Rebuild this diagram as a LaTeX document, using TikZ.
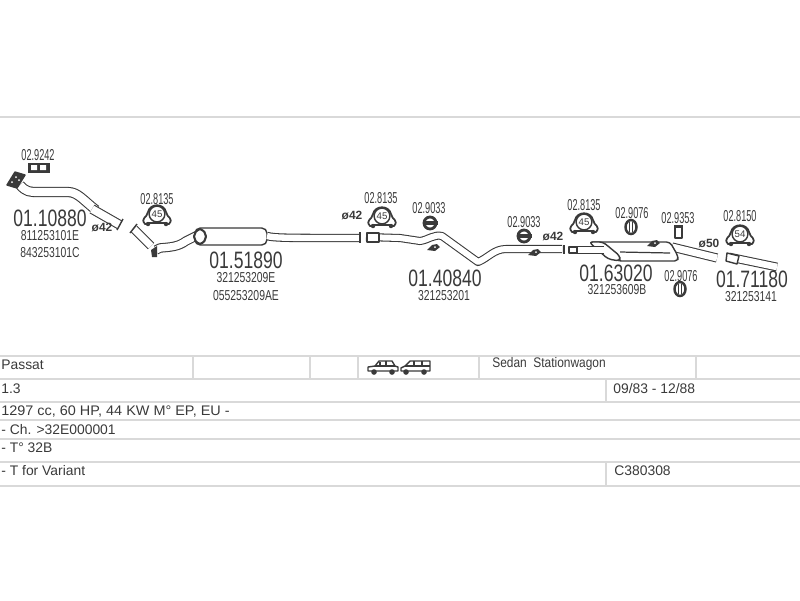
\documentclass[tikz,border=0pt]{standalone}
\usepackage{fontspec}
\setmainfont{Liberation Sans}
\definecolor{ink}{HTML}{3A3A3A}
\definecolor{rule}{HTML}{D9D9D9}
\tikzset{
  partnum/.style={text=ink,inner sep=0pt,font=\fontsize{13.5}{14}\selectfont,transform shape,xscale=.74},
  oemnum/.style={text=ink,inner sep=0pt,font=\fontsize{8.2}{9}\selectfont,transform shape,xscale=.72},
  fitnum/.style={text=ink,inner sep=0pt,font=\fontsize{9}{10}\selectfont,transform shape,xscale=.58},
  dia/.style={text=ink,inner sep=0pt,font=\fontsize{6.8}{8}\selectfont\bfseries},
  cell/.style={text=ink,inner sep=0pt,anchor=west,font=\fontsize{7.9}{9}\selectfont},
  rowline/.style={draw=rule,line width=1.1pt},
  pipe/.style={draw=ink,line width=.6pt,double=white,double distance=#1,line join=round},
  pipe/.default=3.4pt,
  part/.style={draw=ink,line width=.8pt,fill=white,line join=round},
  pics/clamp/.style={code={
    \draw[part,line width=1pt] (-9,9) -- (-12,9) .. controls (-17,3) and (-10,3) .. (-9,-3)
      .. controls (-7,-12) and (7,-12) .. (9,-3) .. controls (10,3) and (17,3) .. (12,9) -- (9,9);
    \draw[ink,line width=1pt] (-9,8) -- (9,8);
    \fill[ink] (-9,9) circle (2.2) (9,9) circle (2.2);
    \node[part,circle,minimum size=9pt,inner sep=0pt,text=ink,font=\fontsize{5.5}{6}\selectfont] (-num) at (0,-1) {#1};
  }},
  pics/ringmount/.style={code={
    \draw[ink,line width=1.6pt,fill=white] (0,0) circle (6);
    \fill[ink] (-7.5,-1.8) rectangle (7.5,1.8);
  }},
  pics/ringrubber/.style={code={
    \draw[ink,line width=1.4pt,fill=white] (0,0) ellipse (5.5 and 7);
    \draw[ink,line width=.7pt] (-1.5,-5) -- (-1.5,5) (1.5,-5) -- (1.5,5);
  }},
  pics/hanger/.style={code={
    \fill[ink] (-6,2) -- (-1,-3) -- (4,-4) -- (7,-1) -- (2,3) -- cycle;
    \fill[white] (2,-1) circle (1);
  }},
  pics/carbody/.style={code={
    \draw[ink,line width=.8pt,line join=round] (0,10) -- (0,6) -- (7,5) -- (11,0) -- (24,0) -- (27,5) -- (30,6) -- (30,10) -- cycle;
    \draw[ink,line width=.6pt] (12,1) -- (12,5) (18,0) -- (18,5) (7,5) -- (27,5);
    \fill[ink] (6,11) circle (2.8) (24,11) circle (2.8);
  }},
  pics/vanbody/.style={code={
    \draw[ink,line width=.8pt,line join=round] (0,10) -- (0,7) -- (4,5) -- (9,0) -- (29,0) -- (29,10) -- cycle;
    \draw[ink,line width=.6pt] (4,5) -- (29,5) (13,0) -- (13,5) (21,0) -- (21,5);
    \fill[ink] (5,11) circle (2.8) (23,11) circle (2.8);
  }}
}
\begin{document}
\begin{tikzpicture}[x=0.02cm,y=-0.02cm]
  \useasboundingbox (0,0) rectangle (800,600);

  % table rules
  \foreach \ypos in {117,356,379,402,420,439,462,486}
    \draw[rowline] (0,\ypos) -- (800,\ypos);
  \foreach \xpos in {193,310,358,479,696}
    \draw[rowline] (\xpos,356) -- (\xpos,379);
  \draw[rowline] (606,379) -- (606,402);
  \draw[rowline] (606,462) -- (606,486);

  % first pipe
  \draw[pipe=4.6pt] (20,185) .. controls (26,192) and (30,192) .. (38,192) -- (68,192) .. controls (78,192) and (84,201) .. (96,210);
  \draw[part,fill=ink] (7,185) -- (15,172) -- (25,175) -- (17,188) -- cycle;
  \fill[white] (12,182) circle (1) (16,177) circle (1) (19,180) circle (1);
  \draw[pipe=4.4pt] (92,209) -- (120,225);
  \draw[ink,line width=.8pt] (123,219) -- (117,230);
  \draw[ink,fill=ink] (28,163) rectangle (49,172);
  \fill[white] (31,165) rectangle (37,170) (40,165) rectangle (46,170);
  \node[fitnum] (fitA) at (38,155) {02.9242};
  \node[partnum] (numA) at (50,218) {01.10880};
  \node[oemnum] (oemAa) at (50,236) {811253101E};
  \node[oemnum] (oemAb) at (50,253) {843253101C};
  \node[dia] (diaA) at (102,227) {ø42};

  % front silencer
  \draw[pipe=4pt] (134,229) -- (151,246);
  \draw[ink,line width=.8pt] (137,224) -- (130,233);
  \draw[pipe=4.2pt] (156,250) -- (160,248) .. controls (170,247) and (178,247) .. (186,241) -- (198,235);
  \fill[ink] (151,250) -- (157,246) -- (157,257) -- (152,257) -- cycle;
  \draw[part,rounded corners=3pt] (195,228) rectangle (267,245);
  \draw[part,line width=1.2pt] (200,229) .. controls (208,232) and (208,241) .. (200,244) .. controls (192,241) and (192,232) .. (200,229);
  \draw[pipe=3.6pt] (267,236) .. controls (275,238) and (285,238) .. (360,238);
  \draw[ink,line width=.8pt] (360,232) -- (360,243);
  \pic (clampB) at (157,215) {clamp=45};
  \node[fitnum] (fitB) at (157,199) {02.8135};
  \node[partnum] (numB) at (246,260) {01.51890};
  \node[oemnum] (oemBa) at (246,278) {321253209E};
  \node[oemnum] (oemBb) at (246,296) {055253209AE};

  % middle pipe
  \draw[pipe=3.4pt] (366,237) -- (400,238) -- (420,241) .. controls (428,240) and (434,234) .. (442,236) -- (478,262) .. controls (488,258) and (494,249) .. (506,249) -- (562,249);
  \draw[ink,line width=.8pt] (564,245) -- (564,254);
  \draw[part] (367,233) rectangle (379,242);
  \pic (clampC) at (382,217) {clamp=45};
  \pic (ringC) at (430,223) {ringmount};
  \pic (ringD) at (524,236) {ringmount};
  \pic (hangC) at (433,248) {hanger};
  \pic (hangD) at (534,253) {hanger};
  \node[fitnum] (fitC) at (381,198) {02.8135};
  \node[fitnum] (fitD) at (429,208) {02.9033};
  \node[fitnum] (fitE) at (524,222) {02.9033};
  \node[partnum] (numC) at (445,278) {01.40840};
  \node[oemnum] (oemC) at (444,296) {321253201};
  \node[dia] (diaB) at (352,215) {ø42};
  \node[dia] (diaC) at (553,236) {ø42};

  % rear silencer
  \draw[pipe=4pt] (672,247) -- (717,258);
  \draw[part,rounded corners=2pt] (589,242) -- (670,242) -- (678,256) -- (678,261) -- (618,261) -- cycle;
  \draw[part,rounded corners=2pt,fill=white] (589,242) -- (603,242) -- (620,256) -- (620,261) -- (608,259) -- cycle;
  \draw[ink,line width=.7pt] (620,252) -- (670,253);
  \draw[pipe=3.6pt] (570,250) -- (604,250);
  \draw[part] (569,247) rectangle (577,253);
  \pic (hangE) at (653,244) {hanger};
  \pic (clampE) at (584,223) {clamp=45};
  \pic (ringE) at (631,227) {ringrubber};
  \pic (ringF) at (680,289) {ringrubber};
  \draw[part] (675,226) rectangle (682,238);
  \fill[ink] (674,225) rectangle (683,228);
  \node[fitnum] (fitF) at (584,205) {02.8135};
  \node[fitnum] (fitG) at (632,213) {02.9076};
  \node[fitnum] (fitH) at (678,218) {02.9353};
  \node[fitnum] (fitI) at (681,276) {02.9076};
  \node[partnum] (numD) at (616,273) {01.63020};
  \node[oemnum] (oemD) at (617,290) {321253609B};
  \node[dia] (diaD) at (709,243) {ø50};

  % tail pipe
  \draw[pipe=3.8pt] (729,257) -- (777,267);
  \draw[part] (727,253) -- (739,256) -- (737,264) -- (726,261) -- cycle;
  \pic (clampF) at (740,235) {clamp=54};
  \node[fitnum] (fitJ) at (740,216) {02.8150};
  \node[partnum] (numE) at (752,279) {01.71180};
  \node[oemnum] (oemE) at (751,297) {321253141};

  % table
  \node[cell] (model) at (1,365) {Passat};
  \pic (sedan) at (368,361) {carbody};
  \pic (wagon) at (401,361) {vanbody};
  \node[cell,transform shape,xscale=.86] (body) at (492,364) {Sedan\ \ Stationwagon};
  \node[cell] (engine) at (1,389) {1.3};
  \node[cell] (years) at (613,389) {09/83 - 12/88};
  \node[cell,transform shape,xscale=1.04] (power) at (1,412) {1297 cc, 60 HP, 44 KW M° EP, EU -};
  \node[cell] (chassis) at (1,430) {- Ch. >32E000001};
  \node[cell] (temp) at (1,448) {- T° 32B};
  \node[cell] (variant) at (1,471) {- T for Variant};
  \node[cell] (code) at (614,471) {C380308};
\end{tikzpicture}
\end{document}
